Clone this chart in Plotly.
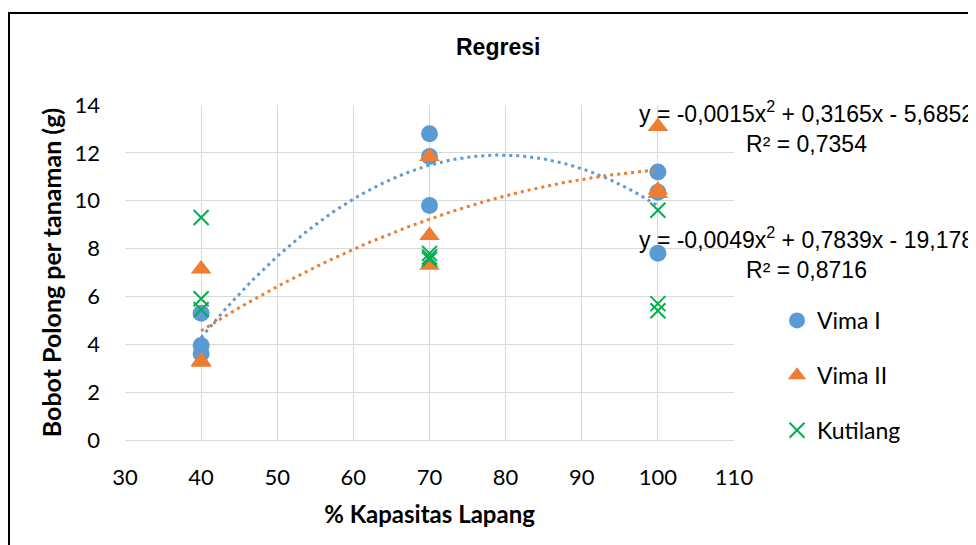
import numpy as np
import plotly.graph_objects as go

# ---- data ----
kapasitas_vima1 = [40, 40, 40, 70, 70, 70, 100, 100, 100]
bobot_vima1 = [5.3, 3.95, 3.6, 12.8, 11.85, 9.8, 11.2, 10.35, 7.8]

kapasitas_vima2 = [40, 40, 40, 70, 70, 70, 100, 100, 100]
bobot_vima2 = [7.15, 3.3, 3.25, 11.85, 8.55, 7.3, 13.1, 10.45, 10.3]

kapasitas_kutilang = [40, 40, 40, 70, 70, 70, 100, 100, 100]
bobot_kutilang = [9.3, 5.9, 5.45, 7.8, 7.65, 7.55, 9.6, 5.7, 5.4]

# trendline labels as printed on the chart
eq_vima2 = "y = -0,0015x<sup>2</sup> + 0,3165x - 5,6852<br>R² = 0,7354"
eq_vima1 = "y = -0,0049x<sup>2</sup> + 0,7839x - 19,178<br>R² = 0,8716"

x_ticks = [30, 40, 50, 60, 70, 80, 90, 100, 110]
y_ticks = [0, 2, 4, 6, 8, 10, 12, 14]

BLUE = "#5B9BD5"
ORANGE = "#ED7D31"
GREEN = "#00B050"
CAL = "Lato, Carlito, Calibri, sans-serif"
ARIAL = "Liberation Sans, Arial, sans-serif"

# page body has an 8px margin, so figure is 8px smaller than window
W, H = 968, 537
OFF = 8
PL, PR, PT, PB = 125 - OFF, 734 - OFF, 105 - OFF, 440 - OFF  # plot area in figure px
PW, PH = PR - PL, PB - PT


def px(xw):
    return (xw - OFF - PL) / PW


def py(yw):
    return (PB - (yw - OFF)) / PH


fig = go.Figure()

fig.add_trace(go.Scatter(
    x=kapasitas_vima1, y=bobot_vima1, mode="markers", name="Vima I",
    legendgroup="a",
    marker=dict(symbol="circle", size=17, color=BLUE)))
fig.add_trace(go.Scatter(
    x=kapasitas_vima2, y=bobot_vima2, mode="markers", name="Vima II",
    legendgroup="b",
    marker=dict(symbol="triangle-up", size=18, color=ORANGE)))
fig.add_trace(go.Scatter(
    x=kapasitas_kutilang, y=bobot_kutilang, mode="markers", name="Kutilang",
    legendgroup="c",
    marker=dict(symbol="x-thin", size=15, color=GREEN,
                line=dict(color=GREEN, width=2))))

# polynomial (order 2) trendlines fitted to each series
for xs, ys, col in [(kapasitas_vima1, bobot_vima1, BLUE),
                    (kapasitas_vima2, bobot_vima2, ORANGE)]:
    c = np.polyfit(xs, ys, 2)
    xt = np.linspace(min(xs), max(xs), 121)
    fig.add_trace(go.Scatter(
        x=xt, y=np.polyval(c, xt), mode="lines", showlegend=False, hoverinfo="skip",
        line=dict(color=col, width=3, dash="3px,4px")))

fig.update_layout(
    width=W, height=H,
    margin=dict(l=PL, r=W - PR, t=PT, b=H - PB, autoexpand=False),
    paper_bgcolor="white", plot_bgcolor="white",
    showlegend=True,
    legend=dict(x=px(777), xanchor="left", y=py(299), yanchor="top",
                font=dict(family=CAL, size=23, color="#000"),
                tracegroupgap=22, bgcolor="rgba(0,0,0,0)"),
    xaxis=dict(range=[30, 110], tickvals=x_ticks, showgrid=True,
               gridcolor="#D9D9D9", gridwidth=1, zeroline=False,
               showline=True, linecolor="#D9D9D9", ticks="",
               ticklabelstandoff=18,
               tickfont=dict(family=CAL, size=22, color="#000"),
               title=dict(text="<b>% Kapasitas Lapang</b>", standoff=16,
                          font=dict(family=CAL, size=24, color="#000"))),
    yaxis=dict(range=[0, 14], tickvals=y_ticks, showgrid=True,
               gridcolor="#D9D9D9", gridwidth=1, zeroline=False,
               showline=False, ticks="",
               ticklabelstandoff=24,
               tickfont=dict(family=CAL, size=22, color="#000"),
               title=dict(text="<b>Bobot Polong per tanaman (g)</b>", standoff=5,
                          font=dict(family=CAL, size=25, color="#000"))),
)

# chart title
fig.add_annotation(text="<b>Regresi</b>", xref="paper", yref="paper",
                   x=px(498), y=py(47), showarrow=False, xanchor="center", yanchor="middle",
                   font=dict(family=ARIAL, size=23, color="#000"))

# trendline equations
for txt, yw in [(eq_vima2, 126.5), (eq_vima1, 252.5)]:
    fig.add_annotation(text=txt, xref="paper", yref="paper", x=px(806), y=py(yw),
                       showarrow=False, xanchor="center", yanchor="middle", align="center",
                       font=dict(family=ARIAL, size=23, color="#000"))

# outer chart border
fig.add_shape(type="rect", xref="paper", yref="paper",
              x0=px(9), x1=px(1000), y0=py(570), y1=py(13),
              line=dict(color="#000", width=2), fillcolor="rgba(0,0,0,0)", layer="below")

fig.write_html("out.html")
